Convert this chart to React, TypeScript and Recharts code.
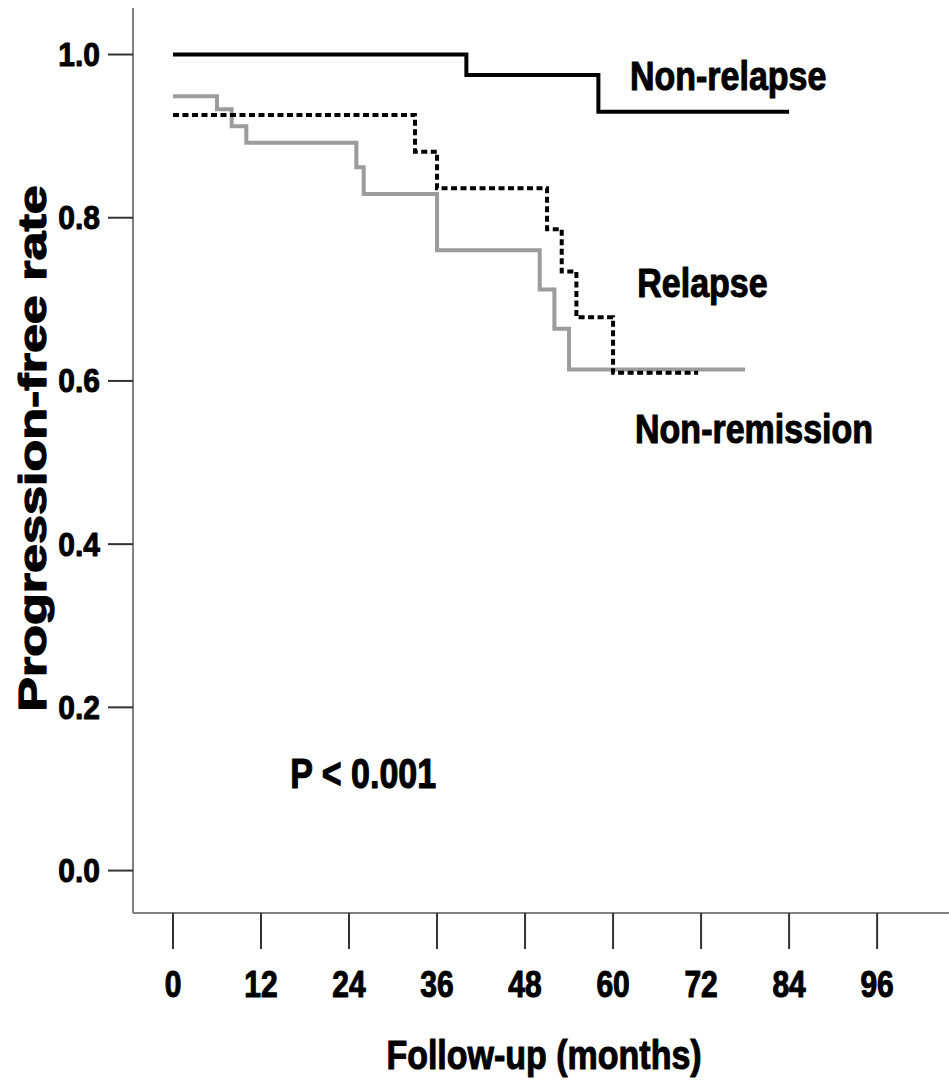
import React from 'react'
import { LineChart, Line, XAxis, YAxis, ReferenceDot } from 'recharts'

// follow-up months on the x axis, progression-free rate on the y axis
const monthTicks = [0, 12, 24, 36, 48, 60, 72, 84, 96]
const rateTicks = [0, 0.2, 0.4, 0.6, 0.8, 1.0]

const nonRelapseMonths = [0, 40, 58, 84]
const nonRelapseRate = [1.0, 0.975, 0.93, 0.93]

const relapseMonths = [0, 33, 36, 51, 53, 55, 60, 71.6]
const relapseRate = [0.926, 0.881, 0.836, 0.786, 0.734, 0.678, 0.61, 0.61]

const nonRemissionMonths = [0, 6, 8, 10, 25, 26, 36, 50, 52, 54, 78]
const nonRemissionRate = [0.949, 0.933, 0.912, 0.892, 0.862, 0.829, 0.76, 0.712, 0.664, 0.614, 0.614]

const curveLabels = ['Non-relapse', 'Relapse', 'Non-remission', 'P < 0.001']
const labelMonths = [62.3, 63.3, 63.0, 16.0]
const labelRates = [0.956, 0.703, 0.524, 0.101]

const zip = (t: number[], s: number[]) => t.map((v, i) => ({ t: v, s: s[i] }))

const FONT = "'Liberation Sans', Arial, Helvetica, sans-serif"

const StretchText = ({ x, y, text, size, sx = 1, sy = 1, anchor = 'start', rotate = 0, weight = 0.9 }: any) => (
  <g transform={`translate(${x},${y}) rotate(${rotate}) scale(${sx},${sy})`}>
    <text
      x={0}
      y={0}
      textAnchor={anchor}
      fontFamily={FONT}
      fontWeight="bold"
      fontSize={size}
      fill="#000"
      stroke="#000"
      strokeWidth={weight}
      strokeLinejoin="round"
    >
      {text}
    </text>
  </g>
)

const YTick = (props: any) => {
  const { x, y, payload } = props
  return <StretchText x={x} y={y + 11.5} text={Number(payload.value).toFixed(1)} size={30} sy={1.1} anchor="end" />
}

const XTick = (props: any) => {
  const { x, y, payload } = props
  return <StretchText x={x} y={y + 48} text={String(payload.value)} size={30} sy={1.2} anchor="middle" />
}

export default function App() {
  return (
    <div style={{ position: 'absolute', left: 0, top: 0, width: 949, height: 1080, background: '#fff' }}>
      <LineChart width={949} height={1080} margin={{ top: 8, right: 0, bottom: 0, left: 0 }}>
        <XAxis
          type="number"
          dataKey="t"
          domain={[-5.45, 105.8]}
          ticks={monthTicks}
          allowDataOverflow
          height={167}
          tickSize={36}
          tickMargin={0}
          axisLine={{ stroke: '#808080', strokeWidth: 2 }}
          tickLine={{ stroke: '#333', strokeWidth: 2 }}
          tick={XTick}
          label={{
            content: (p: any) => {
              const vb = p.viewBox
              return <StretchText x={vb.x + vb.width / 2 + 3} y={vb.y + 156} text="Follow-up (months)" size={34} sy={1.22} anchor="middle" />
            },
          }}
        />
        <YAxis
          type="number"
          dataKey="s"
          domain={[-0.052, 1.057]}
          ticks={rateTicks}
          allowDataOverflow
          width={133}
          tickSize={25}
          tickMargin={8}
          axisLine={{ stroke: '#808080', strokeWidth: 2 }}
          tickLine={{ stroke: '#333', strokeWidth: 2 }}
          tick={YTick}
          label={{
            content: (p: any) => {
              const vb = p.viewBox
              return (
                <StretchText x={46} y={vb.y + vb.height / 2 - 12} text="Progression-free rate" size={38} sx={1.37} anchor="middle" rotate={-90} weight={1.2} />
              )
            },
          }}
        />
        <Line
          data={zip(nonRemissionMonths, nonRemissionRate)}
          dataKey="s"
          type="stepAfter"
          stroke="#9c9c9c"
          strokeWidth={4}
          dot={false}
          isAnimationActive={false}
        />
        <Line
          data={zip(relapseMonths, relapseRate)}
          dataKey="s"
          type="stepAfter"
          stroke="#000"
          strokeWidth={4}
          strokeDasharray="6 3.5"
          dot={false}
          isAnimationActive={false}
        />
        <Line
          data={zip(nonRelapseMonths, nonRelapseRate)}
          dataKey="s"
          type="stepAfter"
          stroke="#000"
          strokeWidth={4}
          dot={false}
          isAnimationActive={false}
        />
        {curveLabels.map((txt, i) => (
          <ReferenceDot
            key={txt}
            x={labelMonths[i]}
            y={labelRates[i]}
            r={0}
            fill="none"
            stroke="none"
            label={{
              content: (p: any) => (
                <StretchText x={p.viewBox.x} y={p.viewBox.y} text={txt} size={34} sy={i === 3 ? 1.25 : 1.18} />
              ),
            }}
          />
        ))}
      </LineChart>
    </div>
  )
}
